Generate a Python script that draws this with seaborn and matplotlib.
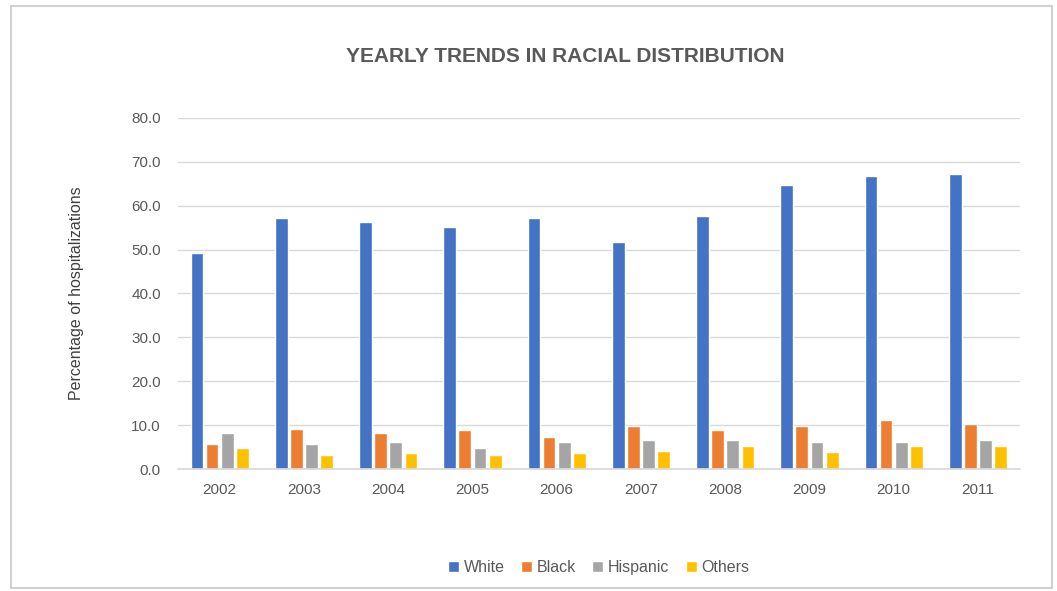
import matplotlib

matplotlib.use("Agg")

import matplotlib.pyplot as plt
import pandas as pd
import seaborn as sns
from matplotlib.patches import Rectangle
from matplotlib.ticker import FormatStrFormatter

YEARS = ["2002", "2003", "2004", "2005", "2006", "2007", "2008", "2009", "2010", "2011"]
GROUPS = ["White", "Black", "Hispanic", "Others"]
WHITE = [49.2, 57.2, 56.2, 55.2, 57.2, 51.7, 57.6, 64.7, 66.7, 67.2]
BLACK = [5.7, 9.2, 8.3, 8.8, 7.2, 9.8, 8.8, 9.8, 11.2, 10.2]
HISPANIC = [8.3, 5.7, 6.2, 4.7, 6.2, 6.7, 6.7, 6.2, 6.2, 6.7]
OTHERS = [4.7, 3.2, 3.7, 3.2, 3.7, 4.2, 5.3, 3.8, 5.3, 5.3]
COLORS = ["#4472C4", "#ED7D31", "#A5A5A5", "#FFC000"]

sns.set_theme(style="white")
plt.rcParams["font.family"] = ["Liberation Sans", "DejaVu Sans"]

df = pd.DataFrame({
    "year": YEARS * 4,
    "group": [g for g in GROUPS for _ in YEARS],
    "pct": WHITE + BLACK + HISPANIC + OTHERS,
})

fig = plt.figure(figsize=(10.57, 5.91), dpi=100)
ax = fig.add_axes([0.168, 0.2064, 0.797, 0.594])

sns.barplot(data=df, x="year", y="pct", hue="group", hue_order=GROUPS, order=YEARS,
            palette=COLORS, width=0.72, gap=0.16, saturation=1, ax=ax)

ax.set_xlim(-0.5, 9.5)
ax.set_ylim(0, 80)
ax.set_yticks(range(0, 81, 10))
ax.yaxis.set_major_formatter(FormatStrFormatter("%.1f"))
ax.grid(axis="y", color="#D9D9D9", linewidth=1)
ax.set_axisbelow(True)
for side in ["left", "right", "top"]:
    ax.spines[side].set_visible(False)
ax.spines["bottom"].set_color("#D9D9D9")
ax.tick_params(axis="both", length=0, labelsize=11, labelcolor="#595959")
ax.tick_params(axis="x", pad=10)
ax.tick_params(axis="y", pad=12)
ax.set_xlabel("")
ax.set_ylabel("Percentage of hospitalizations", fontsize=11.5, color="#404040", labelpad=34)

fig.text(0.535, 0.905, "YEARLY TRENDS IN RACIAL DISTRIBUTION", ha="center", va="center",
         fontsize=15, fontweight="bold", color="#595959")

ax.legend(loc="center", bbox_to_anchor=(0.5, -0.28), ncol=4, frameon=False,
          fontsize=11.5, labelcolor="#595959", handlelength=0.7, handleheight=0.7,
          handletextpad=0.3, columnspacing=1.0)

fig.patches.append(Rectangle((0.010, 0.005), 0.985, 0.985, transform=fig.transFigure,
                             fill=False, edgecolor="#D0D0D0", linewidth=1.5))

fig.savefig("out.png", dpi=100)
